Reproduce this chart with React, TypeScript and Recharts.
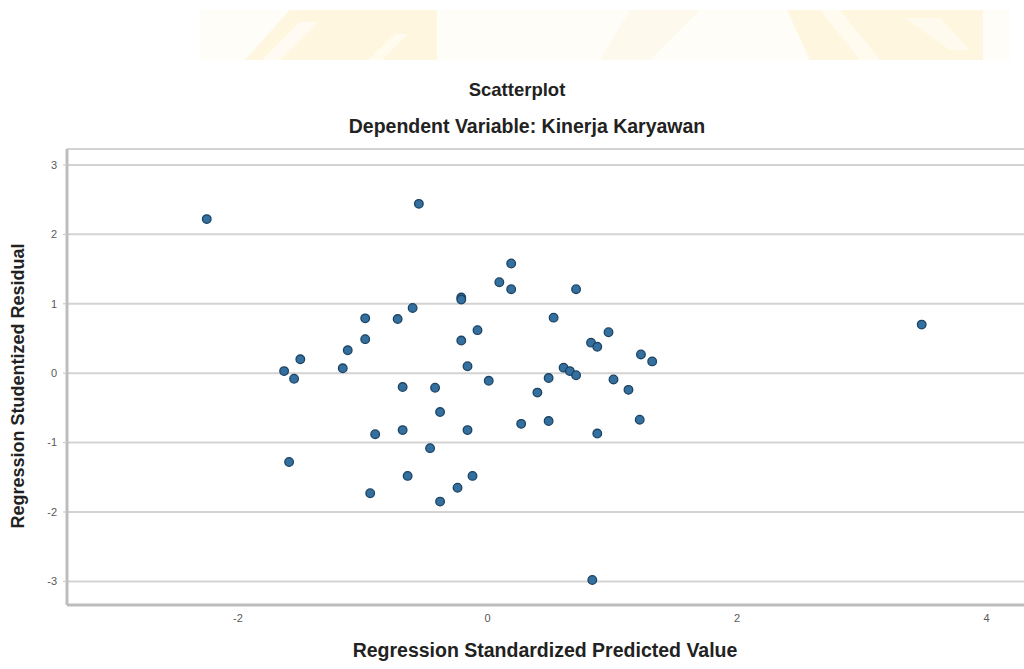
import React from 'react';
import { ScatterChart, Scatter, XAxis, YAxis, CartesianGrid } from 'recharts';

// Regression Standardized Predicted Value (x) and Studentized Residual (y)
const predicted = [
  -2.25, -1.63, -1.55, -1.5, -1.16, -1.12, -1.59, -0.55, 0.19, 0.095,
  0.19, 0.71, -0.21, -0.21, -0.6, -0.98, -0.72, 0.53, -0.08, 0.97,
  -0.98, -0.21, 0.83, 0.88, 1.23, 1.32, -0.16, 0.61, 0.66, 0.71,
  0.01, 0.49, 1.01, -0.68, -0.42, 0.4, 1.13, -0.38, -0.9, -0.68,
  -0.16, 0.27, 0.49, 1.22, 0.88, -0.46, -0.64, -0.12, -0.24, -0.94,
  -0.38, 0.84, 3.48,
];
const residual = [
  2.22, 0.03, -0.08, 0.2, 0.07, 0.33, -1.28, 2.44, 1.58, 1.31,
  1.21, 1.21, 1.09, 1.06, 0.94, 0.79, 0.78, 0.8, 0.62, 0.59,
  0.49, 0.47, 0.44, 0.38, 0.27, 0.17, 0.1, 0.08, 0.03, -0.03,
  -0.11, -0.07, -0.09, -0.2, -0.21, -0.28, -0.24, -0.56, -0.88, -0.82,
  -0.82, -0.73, -0.69, -0.67, -0.87, -1.08, -1.48, -1.48, -1.65, -1.73,
  -1.85, -2.98, 0.7,
];

const xTicks = [-2, 0, 2, 4];
const yTicks = [-3, -2, -1, 0, 1, 2, 3];

const points = predicted.map((x, i) => ({ x, y: residual[i] }));

const FONT = '"Liberation Sans", Arial, sans-serif';

const Dot = (props: any) => {
  const { cx, cy } = props;
  if (cx == null || cy == null) return null;
  return <circle cx={cx} cy={cy} r={4.3} fill="#33709f" stroke="#1d4363" strokeWidth={1.3} />;
};

// faint logo watermark band at the top of the page
const Watermark = () => (
  <svg width={1024} height={70} style={{ position: 'absolute', left: 0, top: 0 }}>
    <rect x={200} y={10} width={810} height={50} fill="#fdf7e2" opacity={0.25} />
    <polygon points="245,60 290,10 437,10 437,60" fill="#fdf0c6" opacity={0.5} />
    <polygon points="262,60 300,22 318,22 280,60" fill="#fff" opacity={0.6} />
    <polygon points="368,60 395,34 408,34 382,60" fill="#fff" opacity={0.5} />
    <polygon points="630,10 700,10 650,60 600,60" fill="#fdf0c6" opacity={0.25} />
    <polygon points="787,10 983,10 983,60 810,60" fill="#fdf0c6" opacity={0.5} />
    <polygon points="820,10 840,10 880,60 860,60" fill="#fff" opacity={0.5} />
    <polygon points="905,18 940,18 970,50 950,50" fill="#fff" opacity={0.45} />
  </svg>
);

const titleStyle: React.CSSProperties = {
  position: 'absolute',
  transform: 'translate(-50%, -50%)',
  fontWeight: 'bold',
  color: '#222',
  whiteSpace: 'nowrap',
};

export default function App() {
  return (
    <div style={{ position: 'absolute', left: 0, top: 0, width: 1024, height: 669, overflow: 'hidden', background: '#fff', fontFamily: FONT }}>
      <Watermark />
      <div style={{ ...titleStyle, left: 517, top: 90, fontSize: 18.5 }}>Scatterplot</div>
      <div style={{ ...titleStyle, left: 527, top: 126, fontSize: 19.5 }}>Dependent Variable: Kinerja Karyawan</div>
      <div style={{ ...titleStyle, left: 545, top: 650, fontSize: 19.5 }}>Regression Standardized Predicted Value</div>
      <div style={{ ...titleStyle, left: 18, top: 386, fontSize: 18, transform: 'translate(-50%, -50%) rotate(-90deg)' }}>
        Regression Studentized Residual
      </div>
      <div style={{ position: 'absolute', left: 0, top: 0 }}>
        <ScatterChart width={1024} height={669} margin={{ top: 149, right: 0, bottom: 0, left: 27 }}>
          <CartesianGrid vertical={false} stroke="#d3d3d3" strokeWidth={2} />
          <XAxis
            type="number"
            dataKey="x"
            domain={[-3.37, 4.3]}
            allowDataOverflow
            ticks={xTicks}
            height={64}
            tickSize={4}
            tickMargin={5}
            tickLine={false}
            axisLine={{ stroke: '#bdbdbd', strokeWidth: 3 }}
            tick={{ fill: '#595959', fontSize: 11, fontFamily: FONT }}
          />
          <YAxis
            type="number"
            dataKey="y"
            domain={[-3.34, 3.23]}
            allowDataOverflow
            ticks={yTicks}
            width={40}
            tickSize={4}
            tickMargin={6}
            tickLine={{ stroke: '#c4c4c4' }}
            axisLine={{ stroke: '#bdbdbd', strokeWidth: 3 }}
            tick={{ fill: '#595959', fontSize: 11, fontFamily: FONT }}
          />
          <Scatter data={points} shape={Dot} isAnimationActive={false} />
        </ScatterChart>
      </div>
    </div>
  );
}
